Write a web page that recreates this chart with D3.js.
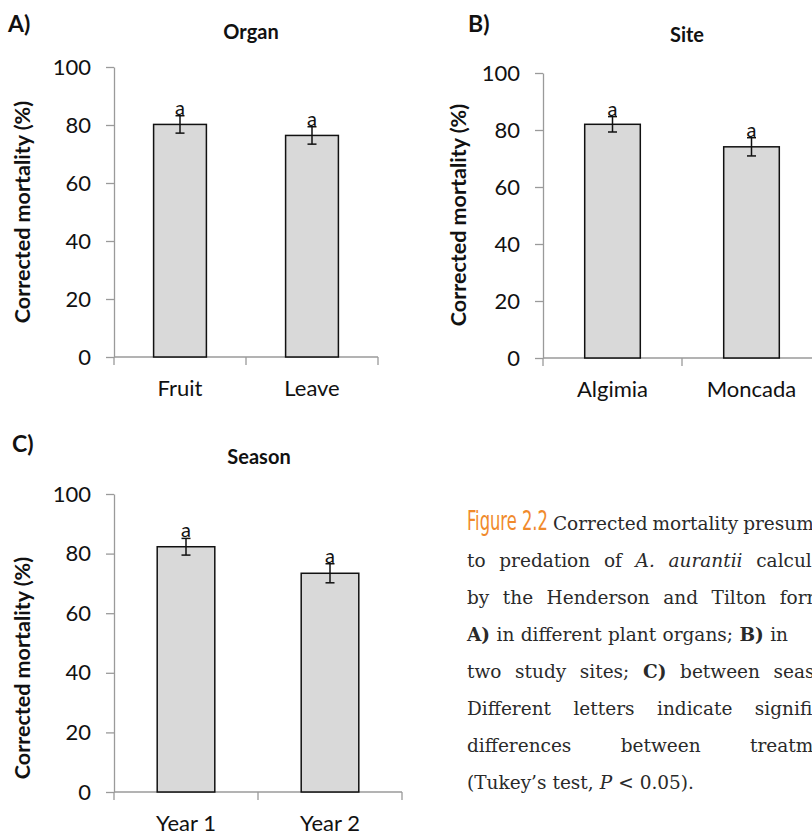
<!DOCTYPE html>
<html>
<head>
<meta charset="utf-8">
<script src="https://cdn.jsdelivr.net/npm/d3@7"></script>
<style>
  html, body { margin: 0; padding: 0; background: #fff; }
  svg { display: block; }
</style>
</head>
<body>
<svg id="chart" width="812" height="835"></svg>
<script>
// Corrected mortality bar charts (three panels) + figure caption

// Data
const yTicks = [0, 20, 40, 60, 80, 100];

const organCats = ["Fruit", "Leave"];
const organMeans = [80.2, 76.4];
const organErrs = [3.0, 3.0];
const organLetters = ["a", "a"];

const siteCats = ["Algimia", "Moncada"];
const siteMeans = [82.0, 74.1];
const siteErrs = [2.7, 3.2];
const siteLetters = ["a", "a"];

const seasonCats = ["Year 1", "Year 2"];
const seasonMeans = [82.3, 73.4];
const seasonErrs = [2.8, 3.2];
const seasonLetters = ["a", "a"];

const FONT = "Lato, 'Open Sans', sans-serif";
const AXIS_COLOR = "#9a9a9a";

const svg = d3.select("#chart");
svg.append("rect").attr("width", 812).attr("height", 835).attr("fill", "#fff");

// Panel layout
const panels = [
  {
    tag: "A)", tagX: 8, tagY: 32,
    title: "Organ", titleX: 251, titleY: 39,
    cats: organCats, means: organMeans, errs: organErrs, letters: organLetters,
    x0: 114, x1: 378, y0: 357, y1: 67,
    yTitleX: 22, yTitleY: 212,
  },
  {
    tag: "B)", tagX: 468, tagY: 32,
    title: "Site", titleX: 687, titleY: 42,
    cats: siteCats, means: siteMeans, errs: siteErrs, letters: siteLetters,
    x0: 543, x1: 821, y0: 358, y1: 73,
    yTitleX: 458, yTitleY: 215,
  },
  {
    tag: "C)", tagX: 12, tagY: 452,
    title: "Season", titleX: 259, titleY: 464,
    cats: seasonCats, means: seasonMeans, errs: seasonErrs, letters: seasonLetters,
    x0: 114, x1: 402, y0: 792, y1: 494,
    yTitleX: 22, yTitleY: 668,
  },
];

panels.forEach(drawPanel);

function drawPanel(p) {
  const g = svg.append("g");

  const x = d3.scaleBand().domain(p.cats).range([p.x0, p.x1]).padding(0);
  const y = d3.scaleLinear().domain([0, 100]).range([p.y0, p.y1]);

  // y axis
  const yAxis = d3.axisLeft(y).tickValues(yTicks).tickSize(8).tickSizeOuter(0).tickPadding(15);
  const yAxisG = g.append("g").attr("transform", `translate(${p.x0},0)`).call(yAxis);
  yAxisG.select(".domain").attr("stroke", AXIS_COLOR).attr("stroke-width", 1.3);
  yAxisG.selectAll(".tick line").attr("stroke", AXIS_COLOR).attr("stroke-width", 1.3);
  yAxisG.selectAll(".tick text")
    .attr("font-family", FONT).attr("font-size", 22).attr("fill", "#111");

  // x axis line + boundary ticks
  g.append("line")
    .attr("x1", p.x0).attr("x2", p.x1)
    .attr("y1", p.y0).attr("y2", p.y0)
    .attr("stroke", AXIS_COLOR).attr("stroke-width", 1.3);

  const bounds = p.cats.map((c) => x(c)).concat([p.x1]);
  g.selectAll(".xtick").data(bounds).join("line")
    .attr("class", "xtick")
    .attr("x1", (d) => d).attr("x2", (d) => d)
    .attr("y1", p.y0).attr("y2", p.y0 + 8)
    .attr("stroke", AXIS_COLOR).attr("stroke-width", 1.3);

  // category labels
  const xAxis = d3.axisBottom(x).tickSize(0).tickPadding(23);
  const xAxisG = g.append("g").attr("transform", `translate(0,${p.y0})`).call(xAxis);
  xAxisG.select(".domain").remove();
  xAxisG.selectAll(".tick text")
    .attr("font-family", FONT).attr("font-size", 22).attr("fill", "#111");

  const rows = p.cats.map((c, i) => ({
    cat: c, mean: p.means[i], err: p.errs[i], letter: p.letters[i],
  }));
  const bw = x.bandwidth() * 0.4;
  const cx = (d) => x(d.cat) + x.bandwidth() / 2;

  // bars
  g.selectAll(".bar").data(rows).join("rect")
    .attr("class", "bar")
    .attr("x", (d) => cx(d) - bw / 2)
    .attr("y", (d) => y(d.mean))
    .attr("width", bw)
    .attr("height", (d) => y(0) - y(d.mean))
    .attr("fill", "#d9d9d9")
    .attr("stroke", "#111")
    .attr("stroke-width", 1.5);

  // error bars
  const eb = g.selectAll(".err").data(rows).join("g").attr("class", "err")
    .attr("stroke", "#111").attr("stroke-width", 1.5);
  eb.append("line")
    .attr("x1", cx).attr("x2", cx)
    .attr("y1", (d) => y(d.mean + d.err)).attr("y2", (d) => y(d.mean - d.err));
  eb.append("line")
    .attr("x1", (d) => cx(d) - 4.5).attr("x2", (d) => cx(d) + 4.5)
    .attr("y1", (d) => y(d.mean + d.err)).attr("y2", (d) => y(d.mean + d.err));
  eb.append("line")
    .attr("x1", (d) => cx(d) - 4.5).attr("x2", (d) => cx(d) + 4.5)
    .attr("y1", (d) => y(d.mean - d.err)).attr("y2", (d) => y(d.mean - d.err));

  // significance letters
  g.selectAll(".letter").data(rows).join("text")
    .attr("class", "letter")
    .attr("x", cx)
    .attr("y", (d) => y(d.mean + d.err) - 1)
    .attr("text-anchor", "middle")
    .attr("font-family", FONT).attr("font-size", 20).attr("fill", "#111")
    .text((d) => d.letter);

  // y title
  g.append("text")
    .attr("transform", `translate(${p.yTitleX},${p.yTitleY}) rotate(-90)`)
    .attr("dy", "0.35em")
    .attr("text-anchor", "middle")
    .attr("font-family", FONT).attr("font-size", 21.5).attr("font-weight", 700)
    .attr("fill", "#111")
    .text("Corrected mortality (%)");

  // panel title + tag
  g.append("text")
    .attr("x", p.titleX).attr("y", p.titleY)
    .attr("text-anchor", "middle")
    .attr("font-family", FONT).attr("font-size", 20).attr("font-weight", 700)
    .attr("fill", "#111")
    .text(p.title);

  g.append("text")
    .attr("x", p.tagX).attr("y", p.tagY)
    .attr("font-family", FONT).attr("font-size", 23).attr("font-weight", 700)
    .attr("fill", "#111")
    .text(p.tag);
}

// Caption (justified by hand, running past the right edge like the source)
const captionLines = [
  [["Figure 2.2", "fig"], ["Corrected"], ["mortality"], ["presumably"]],
  [["to"], ["predation"], ["of"], ["A.", "i"], ["aurantii", "i"], ["calculated"]],
  [["by"], ["the"], ["Henderson"], ["and"], ["Tilton"], ["formula"]],
  [["A)", "b"], ["in"], ["different"], ["plant"], ["organs;"], ["B)", "b"], ["in"]],
  [["two"], ["study"], ["sites;"], ["C)", "b"], ["between"], ["seasons."]],
  [["Different"], ["letters"], ["indicate"], ["significant"]],
  [["differences"], ["between"], ["treatments"]],
  [["(Tukey’s"], ["test,"], ["P", "i"], ["<"], ["0.05)."]],
];
const captionRight = [853, 853, 853, 788, 853, 853, 853, null];

const CAP_X = 467;
const CAP_Y = 530;
const CAP_LH = 37;
const FIG_W = 81;
const capG = svg.append("g");

captionLines.forEach((words, li) => {
  const yPos = CAP_Y + li * CAP_LH;
  const nodes = words.map(([t, s]) => {
    return capG.append("text")
      .attr("fill", s === "fig" ? "#f08a2c" : "#2a2a2a")
      .attr("font-family", s === "fig"
        ? "'DejaVu Sans Condensed', 'Liberation Sans Narrow', sans-serif"
        : "'DejaVu Serif', 'Liberation Serif', serif")
      .attr("font-size", s === "fig" ? 27 : 18.5)
      .attr("font-style", s === "i" ? "italic" : "normal")
      .attr("font-weight", s === "b" ? 700 : 400)
      .text(t);
  });
  const natural = nodes.map((n) => n.node().getComputedTextLength());
  const widths = words.map((w, i) => (w[1] === "fig" ? FIG_W : natural[i]));
  const total = d3.sum(widths);
  let gap = 6;
  if (captionRight[li] != null && nodes.length > 1) {
    gap = Math.max(4, (captionRight[li] - CAP_X - total) / (nodes.length - 1));
  }
  let cur = CAP_X;
  nodes.forEach((n, i) => {
    if (words[i][1] === "fig") {
      // squeeze the heading horizontally so it reads as a condensed face
      n.attr("transform", `translate(${cur},${yPos}) scale(${FIG_W / natural[i]},1)`);
    } else {
      n.attr("x", cur).attr("y", yPos);
    }
    cur += widths[i] + gap;
  });
});
</script>
</body>
</html>
